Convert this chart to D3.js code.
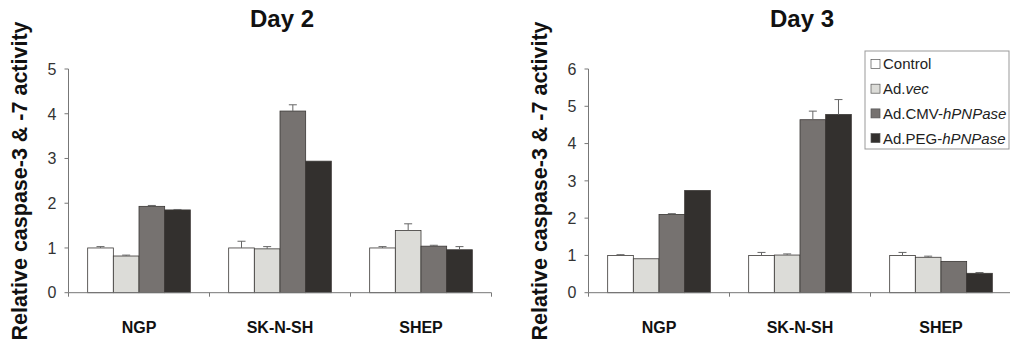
<!DOCTYPE html>
<html>
<head>
<meta charset="utf-8">
<script src="https://cdn.jsdelivr.net/npm/d3@7"></script>
<style>
  body { margin: 0; background: #fff; }
  svg { display: block; font-family: "Liberation Sans", Arial, sans-serif; }
</style>
</head>
<body>
<div id="chart"></div>
<script>
var categories = ["NGP", "SK-N-SH", "SHEP"];
var series = ["Control", "Ad.vec", "Ad.CMV-hPNPase", "Ad.PEG-hPNPase"];
var colors = ["#ffffff", "#dcdcd8", "#767270", "#33302e"];

// Day 2 values [category][series]
var day2Values = [
    [1.00, 0.82, 1.93, 1.85],
    [1.00, 0.98, 4.06, 2.94],
    [1.00, 1.39, 1.04, 0.96]
];
var day2Errors = [
    [0.03, 0.02, 0.02, 0.01],
    [0.15, 0.05, 0.14, 0.00],
    [0.03, 0.15, 0.02, 0.07]
];
var day3Values = [
    [1.00, 0.91, 2.10, 2.74],
    [1.00, 1.01, 4.64, 4.78],
    [1.00, 0.95, 0.84, 0.52]
];
var day3Errors = [
    [0.02, 0.00, 0.02, 0.00],
    [0.08, 0.03, 0.23, 0.40],
    [0.08, 0.03, 0.00, 0.02]
];
var day2Ticks = [0, 1, 2, 3, 4, 5];
var day3Ticks = [0, 1, 2, 3, 4, 5, 6];

var svg = d3.select("#chart")
    .append("svg")
    .attr("width", 1010)
    .attr("height", 345)

function drawPanel(left, yMax, ticks, values, errors, title, titleX, labelX) {
    var top = 69, bottom = 292.7, w = 423;

    var g = svg.append("g")
        .attr("transform", "translate(" + left + ",0)")

    var y = d3.scaleLinear().domain([0, yMax]).range([bottom, top])
    var x = d3.scaleBand().domain(categories).range([0, w])
        .paddingInner(0.272).paddingOuter(0.136)
    var xs = d3.scaleBand().domain(series).range([0, x.bandwidth()])
    var step = w / categories.length

    // y axis
    g.append("line")
        .attr("x1", 0).attr("x2", 0)
        .attr("y1", y(yMax)).attr("y2", y(0))
        .attr("stroke", "#777").attr("stroke-width", 1)
    g.selectAll(".ytick")
        .data(ticks)
        .enter().append("line")
        .attr("x1", -4).attr("x2", 0)
        .attr("y1", function(d) { return y(d) })
        .attr("y2", function(d) { return y(d) })
        .attr("stroke", "#777")
    g.selectAll(".ylab")
        .data(ticks)
        .enter().append("text")
        .attr("x", -12)
        .attr("y", function(d) { return y(d) })
        .attr("dy", "0.36em")
        .attr("text-anchor", "end")
        .attr("font-size", 16)
        .attr("fill", "#333")
        .text(function(d) { return d })

    // bars
    var groups = g.selectAll(".grp")
        .data(categories)
        .enter().append("g")
        .attr("transform", function(d) { return "translate(" + x(d) + ",0)" })

    groups.each(function(cat, ci) {
        var grp = d3.select(this)
        var rows = series.map(function(s, si) {
            return { s: s, si: si, v: values[ci][si], e: errors[ci][si] }
        })
        grp.selectAll("rect")
            .data(rows)
            .enter().append("rect")
            .attr("x", function(d) { return xs(d.s) })
            .attr("width", xs.bandwidth())
            .attr("y", function(d) { return y(d.v) })
            .attr("height", function(d) { return y(0) - y(d.v) })
            .attr("fill", function(d) { return colors[d.si] })
            .attr("stroke", "#3a3735")
            .attr("stroke-width", 0.8)
        var eb = rows.filter(function(d) { return d.e > 0 })
        grp.selectAll(".err")
            .data(eb)
            .enter().append("path")
            .attr("d", function(d) {
                var cx = xs(d.s) + xs.bandwidth() / 2
                return "M" + cx + "," + y(d.v) + "V" + y(d.v + d.e) +
                    "M" + (cx - 4) + "," + y(d.v + d.e) + "H" + (cx + 4)
            })
            .attr("stroke", "#666")
            .attr("stroke-width", 1)
            .attr("fill", "none")
    })

    // x axis
    g.append("line")
        .attr("x1", 0).attr("x2", w)
        .attr("y1", y(0)).attr("y2", y(0))
        .attr("stroke", "#777")
    g.selectAll(".xtick")
        .data(d3.range(categories.length + 1))
        .enter().append("line")
        .attr("x1", function(d) { return d * step })
        .attr("x2", function(d) { return d * step })
        .attr("y1", y(0)).attr("y2", y(0) + 4)
        .attr("stroke", "#777")
    g.selectAll(".xlab")
        .data(categories)
        .enter().append("text")
        .attr("x", function(d) { return x(d) + x.bandwidth() / 2 })
        .attr("y", 333)
        .attr("text-anchor", "middle")
        .attr("font-size", 16)
        .attr("font-weight", "bold")
        .attr("fill", "#111")
        .text(function(d) { return d })

    // title
    svg.append("text")
        .attr("x", titleX).attr("y", 27)
        .attr("text-anchor", "middle")
        .attr("font-size", 24)
        .attr("font-weight", "bold")
        .attr("fill", "#111")
        .text(title)

    // y label
    svg.append("text")
        .attr("transform", "translate(" + labelX + ",181) rotate(-90)")
        .attr("text-anchor", "middle")
        .attr("font-size", 21.5)
        .attr("font-weight", "bold")
        .attr("fill", "#111")
        .text("Relative caspase-3 & -7 activity")
}

drawPanel(68.5, 5, day2Ticks, day2Values, day2Errors, "Day 2", 282, 27)
drawPanel(588.5, 6, day3Ticks, day3Values, day3Errors, "Day 3", 802, 547)

// legend
var legend = svg.append("g").attr("transform", "translate(865,51)")
legend.append("rect")
    .attr("width", 144).attr("height", 98)
    .attr("fill", "#fff").attr("stroke", "#999")
var items = legend.selectAll(".item")
    .data(series)
    .enter().append("g")
    .attr("transform", function(d, i) { return "translate(6," + (13 + i * 24.7) + ")" })
items.append("rect")
    .attr("x", 0).attr("y", -4.5).attr("width", 9).attr("height", 9)
    .attr("fill", function(d, i) { return colors[i] })
    .attr("stroke", "#555").attr("stroke-width", 0.7)
var lt = items.append("text")
    .attr("x", 12).attr("dy", "0.36em")
    .attr("font-size", 15).attr("fill", "#222")
lt.each(function(d) {
    var t = d3.select(this)
    var i = d.indexOf("-h")
    var j = d.indexOf("vec")
    if (i > 0) {
        t.append("tspan").text(d.slice(0, i + 1))
        t.append("tspan").attr("font-style", "italic").text(d.slice(i + 1))
    } else if (j > 0) {
        t.append("tspan").text(d.slice(0, j))
        t.append("tspan").attr("font-style", "italic").text("vec")
    } else {
        t.text(d)
    }
})
</script>
</body>
</html>
